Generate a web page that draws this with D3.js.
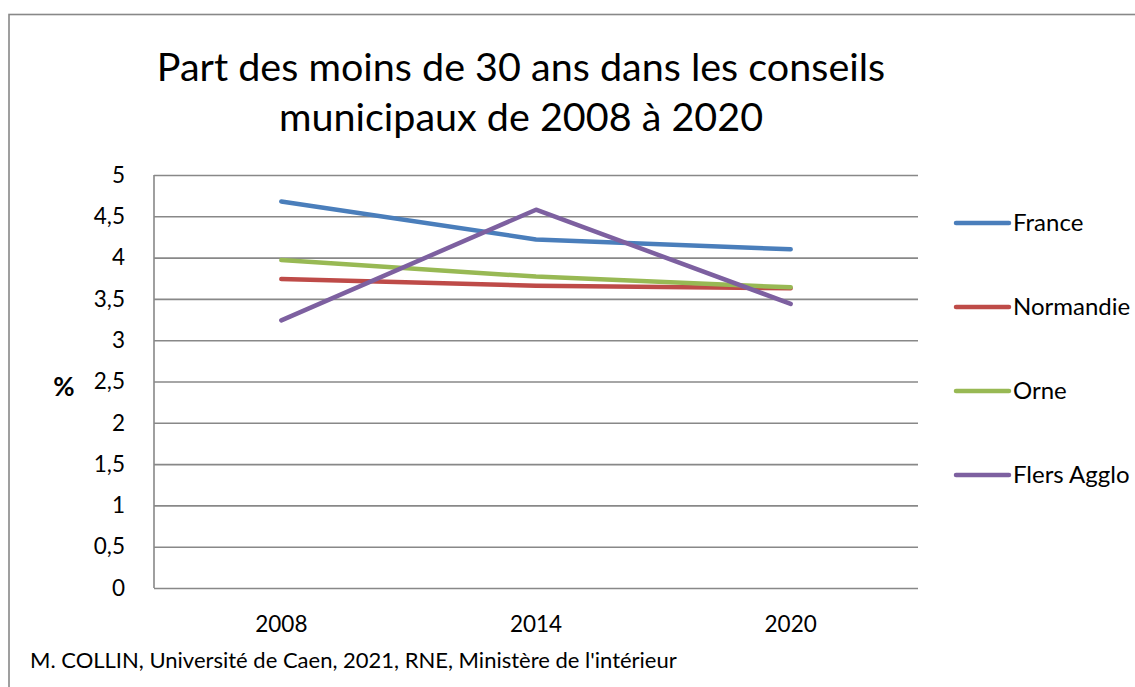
<!DOCTYPE html>
<html>
  <head>
    <meta charset="utf-8">
    <title>Part des moins de 30 ans</title>
    <script src="https://d3js.org/d3.v7.min.js"></script>
    <style>
      body { margin: 0; background: #fff; }
      svg { display: block; font-family: Lato, "Open Sans", sans-serif; }
      .grid line { stroke: #888; stroke-width: 1.6; }
      .grid path { display: none; }
      .tick text { fill: #000; }
      .plot { fill: none; stroke-width: 4.5; stroke-linecap: round; stroke-linejoin: round; }
    </style>
  </head>
  <body>
    <svg id="chart" width="1135" height="687"></svg>
    <script>
      // chart data
      var years = ["2008", "2014", "2020"];
      var france = [4.68, 4.22, 4.10];
      var normandie = [3.74, 3.66, 3.63];
      var orne = [3.97, 3.77, 3.64];
      var flers = [3.24, 4.58, 3.44];
      var seriesNames = ["France", "Normandie", "Orne", "Flers Agglo"];
      var seriesColors = ["#4a7ebb", "#be4b48", "#98b954", "#7d60a0"];
      var yTicks = [0, 0.5, 1, 1.5, 2, 2.5, 3, 3.5, 4, 4.5, 5];
      var titleLines = ["Part des moins de 30 ans dans les conseils", "municipaux de 2008 à 2020"];
      var source = "M. COLLIN, Université de Caen, 2021, RNE, Ministère de l'intérieur";

      var series = [france, normandie, orne, flers].map(function(vals, i) {
        return { name: seriesNames[i], color: seriesColors[i], values: vals };
      });

      var width = 1135, height = 687;
      var margin = { top: 175, right: 217, bottom: 99, left: 154 };
      var chart = d3.select("#chart");

      // outer frame
      chart.append("rect")
        .attr("x", 9).attr("y", 14.5)
        .attr("width", width + 10).attr("height", height + 10)
        .attr("fill", "none").attr("stroke", "#888").attr("stroke-width", 1.6);

      var x = d3.scaleBand().domain(years).range([margin.left, width - margin.right]);
      var y = d3.scaleLinear().domain([0, 5]).range([height - margin.bottom, margin.top]);

      // gridlines
      chart.append("g")
        .attr("class", "grid")
        .attr("transform", "translate(" + margin.left + ",0)")
        .call(d3.axisRight(y).tickValues(yTicks).tickSize(width - margin.right - margin.left).tickFormat(""));
      chart.append("line")
        .attr("x1", margin.left).attr("x2", margin.left)
        .attr("y1", y(5)).attr("y2", y(0))
        .attr("stroke", "#888").attr("stroke-width", 1.6);

      // y labels
      var yAxis = chart.append("g")
        .attr("transform", "translate(" + (margin.left - 26) + ",0)")
        .call(d3.axisLeft(y).tickValues(yTicks).tickSize(0)
          .tickFormat(function(d) { return String(d).replace(".", ","); }));
      yAxis.select(".domain").remove();
      yAxis.selectAll("text").attr("font-size", 22.5).attr("font-family", "Lato");

      // x labels
      var xAxis = chart.append("g")
        .attr("transform", "translate(0," + (height - margin.bottom) + ")")
        .call(d3.axisBottom(x).tickSize(0).tickPadding(28));
      xAxis.select(".domain").remove();
      xAxis.selectAll("text").attr("font-size", 22.5).attr("font-family", "Lato");

      chart.append("text")
        .attr("x", 64).attr("y", 396)
        .attr("text-anchor", "middle")
        .attr("font-size", 26).attr("font-weight", "bold")
        .text("%");

      // lines
      var line = d3.line()
        .x(function(d, i) { return x(years[i]) + x.bandwidth() / 2; })
        .y(function(d) { return y(d); });
      chart.append("g").selectAll("path")
        .data(series)
        .enter().append("path")
          .attr("class", "plot")
          .attr("stroke", function(d) { return d.color; })
          .attr("d", function(d) { return line(d.values); });

      // legend
      var legend = chart.append("g").selectAll("g")
        .data(series)
        .enter().append("g")
          .attr("transform", function(d, i) { return "translate(956," + (223 + i * 84) + ")"; });
      legend.append("line")
        .attr("x1", 0).attr("x2", 53)
        .attr("stroke", function(d) { return d.color; })
        .attr("stroke-width", 4.5).attr("stroke-linecap", "round");
      legend.append("text")
        .attr("x", 57).attr("dy", "0.35em")
        .attr("font-size", 24)
        .text(function(d) { return d.name; });

      // title
      chart.append("g").selectAll("text")
        .data(titleLines)
        .enter().append("text")
          .attr("x", 521).attr("y", function(d, i) { return 81 + i * 50; })
          .attr("text-anchor", "middle")
          .attr("font-size", 39.5)
          .text(function(d) { return d; });

      // source
      chart.append("text")
        .attr("x", 30).attr("y", 668)
        .attr("font-size", 22)
        .text(source);
    </script>
  </body>
</html>
